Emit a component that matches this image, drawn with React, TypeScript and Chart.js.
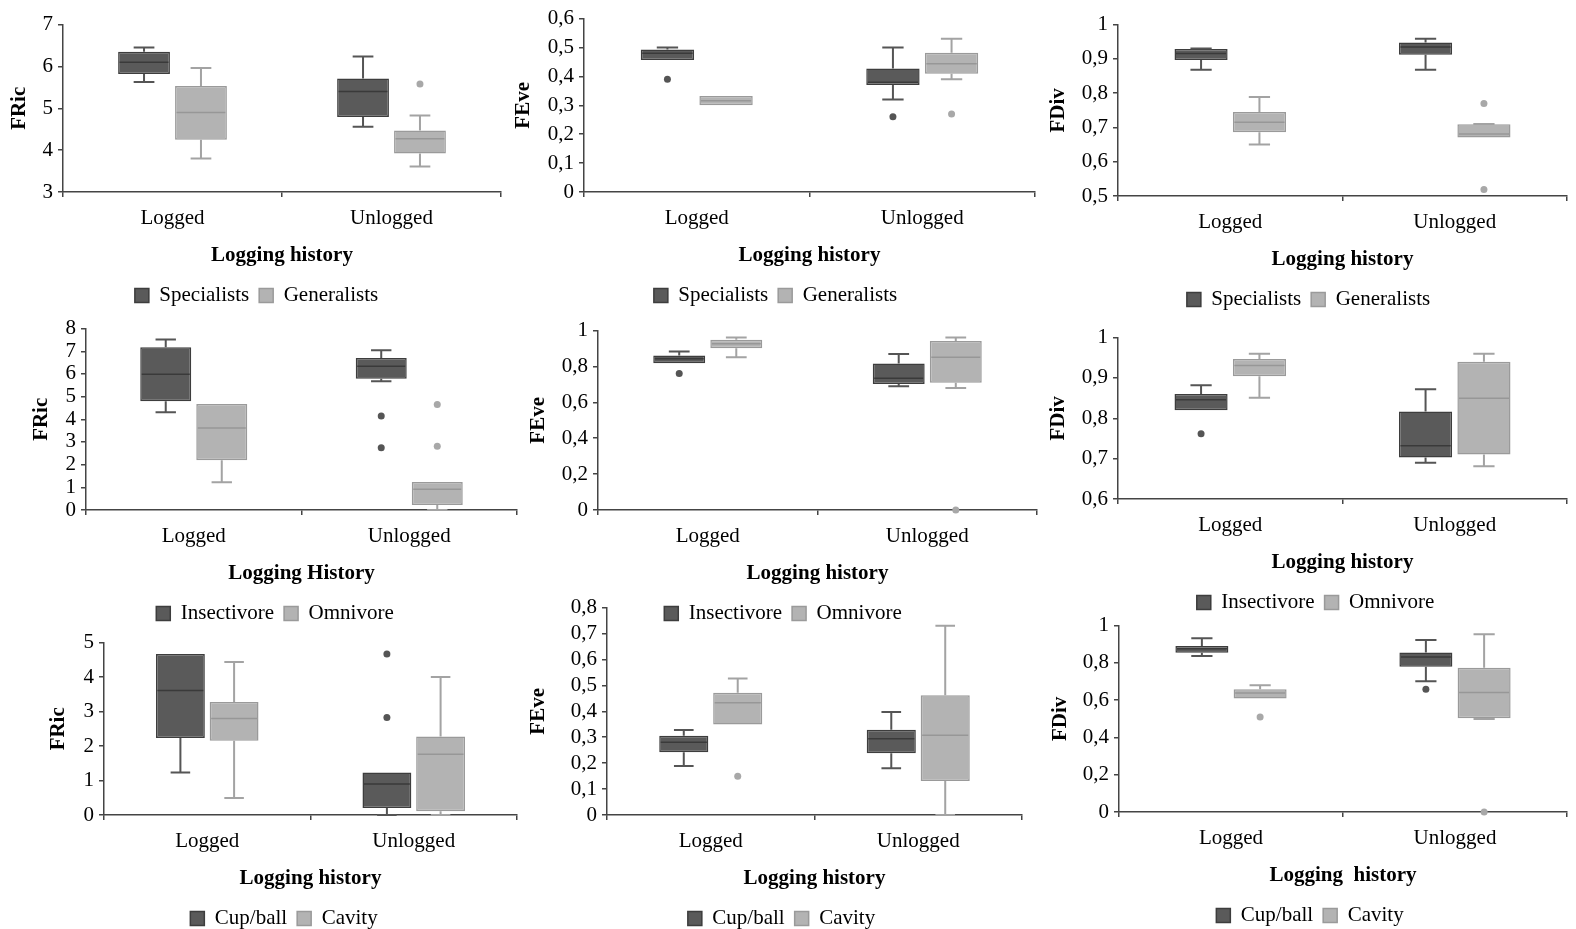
import React, { useEffect, useRef } from 'react';
import { Chart, registerables } from 'chart.js';

Chart.register(...registerables);
Chart.defaults.font.family = "'Times New Roman', 'Liberation Serif', serif";
Chart.defaults.font.size = 21;
Chart.defaults.color = '#000';

type Box = { min: number; q1: number; median: number; q3: number; max: number; outliers: number[] };

const categories = ['Logged', 'Unlogged'];

// ---- Row 1: Specialists vs Generalists ----
const fricSpecialists: Box[] = [
  { min: 5.63, q1: 5.82, median: 6.1, q3: 6.35, max: 6.45, outliers: [] },
  { min: 4.56, q1: 4.79, median: 5.4, q3: 5.71, max: 6.24, outliers: [] },
];
const fricGeneralists: Box[] = [
  { min: 3.8, q1: 4.25, median: 4.9, q3: 5.53, max: 5.96, outliers: [] },
  { min: 3.61, q1: 3.92, median: 4.27, q3: 4.47, max: 4.83, outliers: [5.58] },
];
const feveSpecialists: Box[] = [
  { min: 0.457, q1: 0.457, median: 0.48, q3: 0.493, max: 0.5, outliers: [0.39] },
  { min: 0.32, q1: 0.37, median: 0.38, q3: 0.427, max: 0.5, outliers: [0.26] },
];
const feveGeneralists: Box[] = [
  { min: 0.3, q1: 0.3, median: 0.316, q3: 0.332, max: 0.332, outliers: [] },
  { min: 0.39, q1: 0.409, median: 0.444, q3: 0.482, max: 0.53, outliers: [0.27] },
];
const fdivSpecialists: Box[] = [
  { min: 0.868, q1: 0.897, median: 0.916, q3: 0.929, max: 0.93, outliers: [] },
  { min: 0.868, q1: 0.912, median: 0.935, q3: 0.948, max: 0.959, outliers: [] },
];
const fdivGeneralists: Box[] = [
  { min: 0.65, q1: 0.686, median: 0.715, q3: 0.745, max: 0.789, outliers: [] },
  { min: 0.671, q1: 0.671, median: 0.681, q3: 0.709, max: 0.71, outliers: [0.77, 0.519] },
];

// ---- Row 2: Insectivore vs Omnivore ----
const fricInsectivore: Box[] = [
  { min: 4.31, q1: 4.8, median: 5.99, q3: 7.18, max: 7.52, outliers: [] },
  { min: 5.68, q1: 5.79, median: 6.34, q3: 6.7, max: 7.05, outliers: [4.15, 2.75] },
];
const fricOmnivore: Box[] = [
  { min: 1.22, q1: 2.19, median: 3.62, q3: 4.67, max: 4.67, outliers: [] },
  { min: 0, q1: 0.22, median: 0.91, q3: 1.24, max: 1.24, outliers: [4.65, 2.81] },
];
const feveInsectivore: Box[] = [
  { min: 0.818, q1: 0.818, median: 0.843, q3: 0.861, max: 0.883, outliers: [0.761] },
  { min: 0.69, q1: 0.703, median: 0.734, q3: 0.816, max: 0.869, outliers: [] },
];
const feveOmnivore: Box[] = [
  { min: 0.852, q1: 0.901, median: 0.927, q3: 0.949, max: 0.962, outliers: [] },
  { min: 0.68, q1: 0.71, median: 0.852, q3: 0.942, max: 0.962, outliers: [0] },
];
const fdivInsectivore: Box[] = [
  { min: 0.82, q1: 0.82, median: 0.846, q3: 0.86, max: 0.882, outliers: [0.762] },
  { min: 0.69, q1: 0.703, median: 0.732, q3: 0.817, max: 0.872, outliers: [] },
];
const fdivOmnivore: Box[] = [
  { min: 0.851, q1: 0.904, median: 0.931, q3: 0.947, max: 0.96, outliers: [] },
  { min: 0.681, q1: 0.71, median: 0.85, q3: 0.94, max: 0.96, outliers: [] },
];

// ---- Row 3: Cup/ball vs Cavity ----
const fricCupBall: Box[] = [
  { min: 1.23, q1: 2.23, median: 3.61, q3: 4.67, max: 4.67, outliers: [] },
  { min: 0, q1: 0.2, median: 0.9, q3: 1.23, max: 1.23, outliers: [4.67, 2.83] },
];
const fricCavity: Box[] = [
  { min: 0.49, q1: 2.15, median: 2.8, q3: 3.28, max: 4.44, outliers: [] },
  { min: 0, q1: 0.11, median: 1.76, q3: 2.28, max: 4.0, outliers: [] },
];
const feveCupBall: Box[] = [
  { min: 0.189, q1: 0.242, median: 0.281, q3: 0.306, max: 0.328, outliers: [] },
  { min: 0.18, q1: 0.238, median: 0.294, q3: 0.329, max: 0.397, outliers: [] },
];
const feveCavity: Box[] = [
  { min: 0.349, q1: 0.349, median: 0.433, q3: 0.472, max: 0.527, outliers: [0.149] },
  { min: 0, q1: 0.131, median: 0.308, q3: 0.462, max: 0.73, outliers: [] },
];
const fdivCupBall: Box[] = [
  { min: 0.837, q1: 0.855, median: 0.876, q3: 0.891, max: 0.932, outliers: [] },
  { min: 0.702, q1: 0.779, median: 0.832, q3: 0.856, max: 0.923, outliers: [0.658] },
];
const fdivCavity: Box[] = [
  { min: 0.609, q1: 0.609, median: 0.639, q3: 0.658, max: 0.68, outliers: [0.51] },
  { min: 0.499, q1: 0.503, median: 0.641, q3: 0.774, max: 0.953, outliers: [0] },
];

// ---- Tick values ----
const fricTicksRow1 = [3, 4, 5, 6, 7];
const feveTicksRow1 = [0, 0.1, 0.2, 0.3, 0.4, 0.5, 0.6];
const fdivTicksRow1 = [0.5, 0.6, 0.7, 0.8, 0.9, 1];
const fricTicksRow2 = [0, 1, 2, 3, 4, 5, 6, 7, 8];
const feveTicksRow2 = [0, 0.2, 0.4, 0.6, 0.8, 1];
const fdivTicksRow2 = [0.6, 0.7, 0.8, 0.9, 1];
const fricTicksRow3 = [0, 1, 2, 3, 4, 5];
const feveTicksRow3 = [0, 0.1, 0.2, 0.3, 0.4, 0.5, 0.6, 0.7, 0.8];
const fdivTicksRow3 = [0, 0.2, 0.4, 0.6, 0.8, 1];

const groupsRow1 = ['Specialists', 'Generalists'];
const groupsRow2 = ['Insectivore', 'Omnivore'];
const groupsRow3 = ['Cup/ball', 'Cavity'];

// ---- Styles ----
const darkStyle = { fill: '#5a5a5a', border: '#3d3d3d', whisker: '#555555', median: '#3a3a3a', outlier: '#555555' };
const lightStyle = { fill: '#b3b3b3', border: '#9a9a9a', whisker: '#a3a3a3', median: '#979797', outlier: '#a8a8a8' };

type Layout = { left: number; top: number; width: number; height: number; yWidth: number; padRight: number };
type PanelCfg = {
  yTitle: string;
  xTitle: string;
  names: string[];
  series: Box[][];
  ticks: number[];
  layout: Layout;
};

const panels: PanelCfg[] = [
  { yTitle: 'FRic', xTitle: 'Logging history', names: groupsRow1, series: [fricSpecialists, fricGeneralists], ticks: fricTicksRow1,
    layout: { left: 7, top: 7, width: 499, height: 309, yWidth: 56, padRight: 5 } },
  { yTitle: 'FEve', xTitle: 'Logging history', names: groupsRow1, series: [feveSpecialists, feveGeneralists], ticks: feveTicksRow1,
    layout: { left: 511, top: 1, width: 529, height: 315, yWidth: 73, padRight: 5 } },
  { yTitle: 'FDiv', xTitle: 'Logging history', names: groupsRow1, series: [fdivSpecialists, fdivGeneralists], ticks: fdivTicksRow1,
    layout: { left: 1046, top: 7, width: 525, height: 313, yWidth: 72, padRight: 4 } },
  { yTitle: 'FRic', xTitle: 'Logging History', names: groupsRow2, series: [fricInsectivore, fricOmnivore], ticks: fricTicksRow2,
    layout: { left: 29, top: 311, width: 492, height: 323, yWidth: 57, padRight: 4 } },
  { yTitle: 'FEve', xTitle: 'Logging history', names: groupsRow2, series: [feveInsectivore, feveOmnivore], ticks: feveTicksRow2,
    layout: { left: 526, top: 313, width: 514, height: 321, yWidth: 72, padRight: 3 } },
  { yTitle: 'FDiv', xTitle: 'Logging history', names: groupsRow2, series: [fdivInsectivore, fdivOmnivore], ticks: fdivTicksRow2,
    layout: { left: 1046, top: 320, width: 539, height: 303, yWidth: 72, padRight: 18 } },
  { yTitle: 'FRic', xTitle: 'Logging history', names: groupsRow3, series: [fricCupBall, fricCavity], ticks: fricTicksRow3,
    layout: { left: 46, top: 625, width: 476, height: 314, yWidth: 58, padRight: 5 } },
  { yTitle: 'FEve', xTitle: 'Logging history', names: groupsRow3, series: [feveCupBall, feveCavity], ticks: feveTicksRow3,
    layout: { left: 526, top: 590, width: 511, height: 349, yWidth: 81, padRight: 15 } },
  { yTitle: 'FDiv', xTitle: 'Logging  history', names: groupsRow3, series: [fdivCupBall, fdivCavity], ticks: fdivTicksRow3,
    layout: { left: 1048, top: 608, width: 524, height: 328, yWidth: 71, padRight: 5 } },
];

const fmt = (v: number) =>
  Math.abs(v - Math.round(v)) < 1e-9 ? String(Math.round(v)) : v.toFixed(1).replace('.', ',');

const boxPlotPlugin = {
  id: 'boxPlotWhiskers',
  afterDatasetsDraw(chart: any) {
    const { ctx } = chart;
    const yScale = chart.scales.y;
    chart.data.datasets.forEach((ds: any, di: number) => {
      const meta = chart.getDatasetMeta(di);
      const boxes: Box[] = ds.boxes;
      const st = ds.boxStyle;
      meta.data.forEach((el: any, i: number) => {
        const b = boxes[i];
        if (!b) return;
        const x = el.x;
        const half = el.width / 2;
        const cap = el.width * 0.2;
        const yMin = yScale.getPixelForValue(b.min);
        const yQ1 = yScale.getPixelForValue(b.q1);
        const yMed = yScale.getPixelForValue(b.median);
        const yQ3 = yScale.getPixelForValue(b.q3);
        const yMax = yScale.getPixelForValue(b.max);
        ctx.save();
        ctx.strokeStyle = st.whisker;
        ctx.lineWidth = 2;
        ctx.beginPath();
        if (b.max > b.q3) {
          ctx.moveTo(x, yQ3);
          ctx.lineTo(x, yMax);
          ctx.moveTo(x - cap, yMax);
          ctx.lineTo(x + cap, yMax);
        }
        if (b.min < b.q1) {
          ctx.moveTo(x, yQ1);
          ctx.lineTo(x, yMin);
          ctx.moveTo(x - cap, yMin);
          ctx.lineTo(x + cap, yMin);
        }
        ctx.stroke();
        ctx.strokeStyle = st.median;
        ctx.lineWidth = 1.5;
        ctx.beginPath();
        ctx.moveTo(x - half + 1.5, yMed);
        ctx.lineTo(x + half - 1.5, yMed);
        ctx.stroke();
        ctx.fillStyle = st.outlier;
        b.outliers.forEach((v) => {
          ctx.beginPath();
          ctx.arc(x, yScale.getPixelForValue(v), 3.5, 0, Math.PI * 2);
          ctx.fill();
        });
        ctx.restore();
      });
    });
  },
};

function Panel({ cfg }: { cfg: PanelCfg }) {
  const ref = useRef<HTMLCanvasElement>(null);
  const L = cfg.layout;
  useEffect(() => {
    const styles = [darkStyle, lightStyle];
    const chart = new Chart(ref.current as HTMLCanvasElement, {
      type: 'bar',
      data: {
        labels: categories,
        datasets: cfg.series.map((boxes, si) => ({
          label: cfg.names[si],
          data: boxes.map((b) => [b.q1, b.q3]),
          backgroundColor: styles[si].fill,
          borderColor: styles[si].border,
          borderWidth: 1.5,
          borderSkipped: false,
          categoryPercentage: 0.52,
          barPercentage: 0.91,
          boxes,
          boxStyle: styles[si],
        })) as any,
      },
      options: {
        responsive: false,
        animation: false,
        devicePixelRatio: 1,
        events: [],
        layout: { padding: { top: 14, right: 0, bottom: 0, left: 0 } },
        plugins: {
          tooltip: { enabled: false },
          legend: {
            display: true,
            position: 'bottom',
            labels: { boxWidth: 14, boxHeight: 14, padding: 10, color: '#000', font: { size: 21 } },
          },
        },
        scales: {
          x: {
            afterFit: (s: any) => { s.height = 83; },
            ticks: { padding: 9, color: '#000', font: { size: 21 } },
            grid: { drawOnChartArea: false, drawTicks: true, tickLength: 5, color: '#444', lineWidth: 1.5, offset: true },
            border: { color: '#444', width: 1.5 },
            title: { display: true, text: cfg.xTitle, color: '#000', font: { size: 21, weight: 'bold' }, padding: { top: 0, bottom: 7 } },
          },
          y: {
            min: cfg.ticks[0],
            max: cfg.ticks[cfg.ticks.length - 1],
            afterBuildTicks: (s: any) => { s.ticks = cfg.ticks.map((v) => ({ value: v })); },
            afterFit: (s: any) => { s.width = L.yWidth; },
            ticks: { autoSkip: false, padding: 5, color: '#000', font: { size: 21 }, callback: (v: any) => fmt(Number(v)) },
            grid: { drawOnChartArea: false, drawTicks: true, tickLength: 5, color: '#444', lineWidth: 1.5 },
            border: { color: '#444', width: 1.5 },
            title: { display: true, text: cfg.yTitle, color: '#000', font: { size: 21, weight: 'bold' }, padding: 0 },
          },
          y2: {
            position: 'right',
            display: true,
            afterFit: (s: any) => { s.width = L.padRight; },
            grid: { display: false, drawTicks: false },
            border: { display: false },
            ticks: { display: false },
          },
        },
      } as any,
      plugins: [boxPlotPlugin],
    });
    return () => chart.destroy();
  }, []);
  return (
    <canvas
      ref={ref}
      width={L.width}
      height={L.height}
      style={{ position: 'absolute', left: L.left, top: L.top, width: L.width, height: L.height }}
    />
  );
}

export default function App() {
  return (
    <div style={{ position: 'absolute', left: 0, top: 0, width: 1576, height: 929, overflow: 'hidden', background: '#fff' }}>
      {panels.map((p, i) => (
        <Panel key={i} cfg={p} />
      ))}
    </div>
  );
}
